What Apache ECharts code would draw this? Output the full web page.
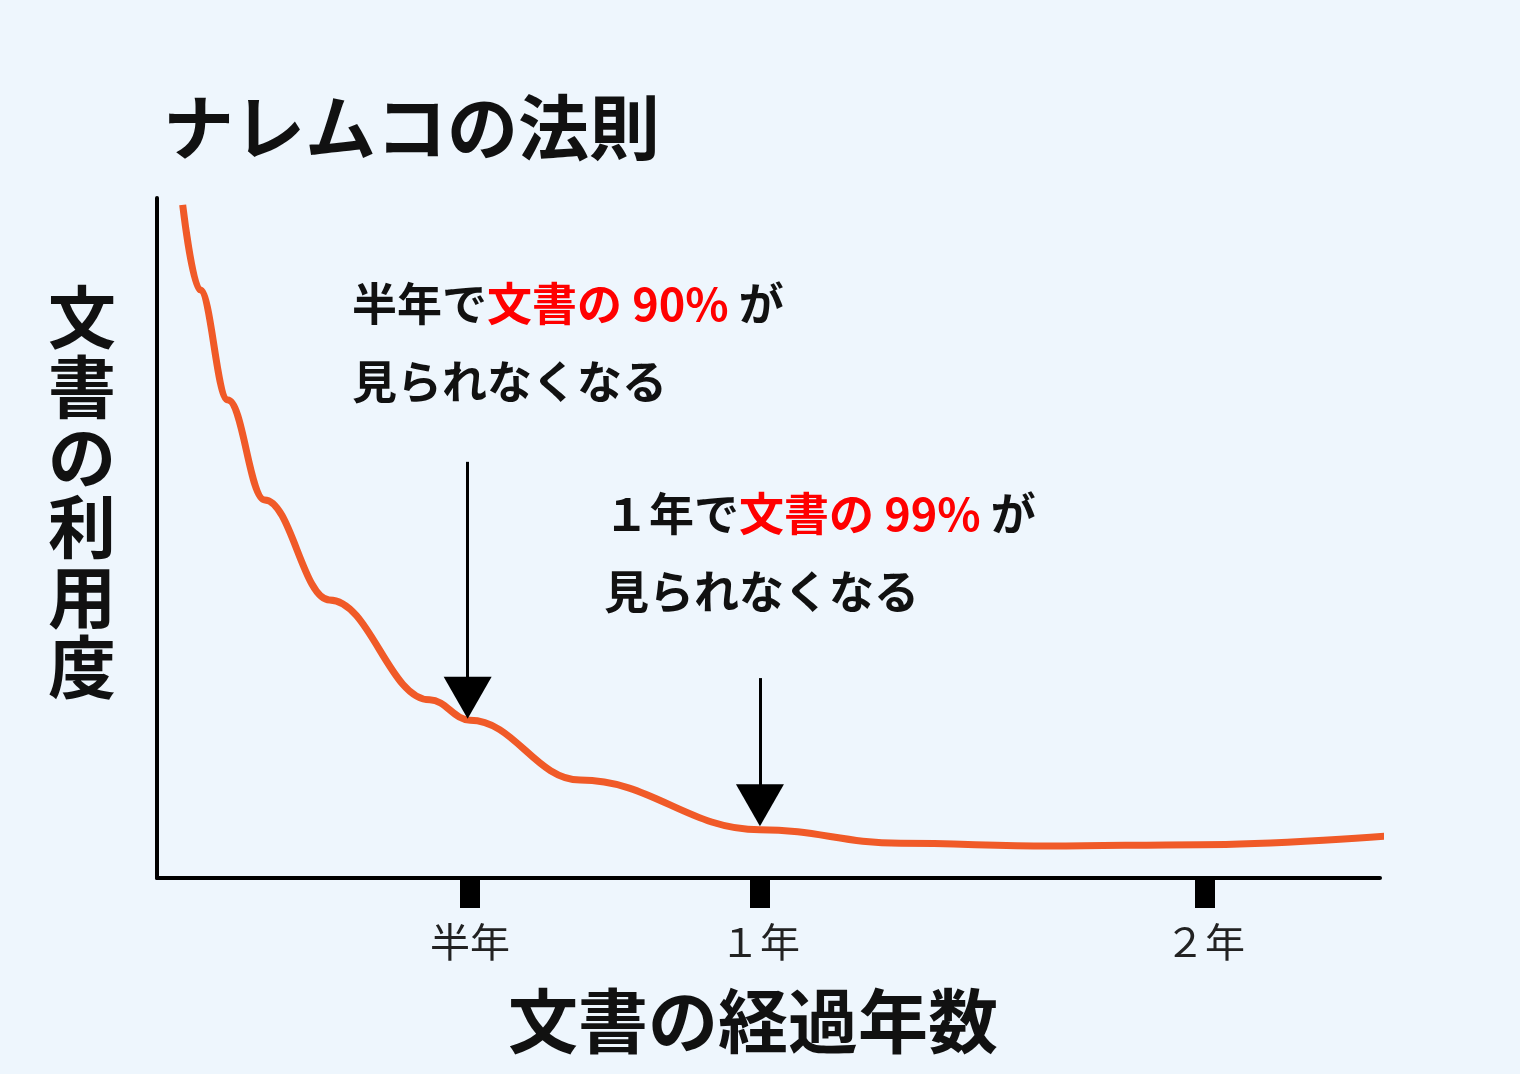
<!DOCTYPE html>
<html><head><meta charset="utf-8">
<script src="https://cdn.jsdelivr.net/npm/echarts@6/dist/echarts.min.js"></script>
<style>html,body{margin:0;padding:0;background:#EEF6FD}#c{width:1520px;height:1074px}</style>
</head><body><div id="c"></div>
<script>
const curveX = [2.1,3.5,5.8,8.8,14.1,22.3,25.6,34.6,49.3,60.8,73.0,85.3,100.8];
const curveY = [99,86.5,70.3,55.6,40.9,26.2,23.2,14.4,7.1,5.1,4.7,4.9,6.2];
const tickPos = [25.6,49.3,85.7];
const tickLabels = ['半年','１年','２年'];
const F = '"Noto Sans CJK JP","Noto Sans CJK SC",sans-serif';
const chart = echarts.init(document.getElementById('c'));
const rich = {b:{fontFamily:F,fontSize:45,fontWeight:'bold',fill:'#111',color:'#111',lineHeight:78},
              r:{fontFamily:F,fontSize:45,fontWeight:'bold',fill:'#F00',color:'#F00',lineHeight:78}};
chart.setOption({
  backgroundColor:'#EEF6FD',
  grid:{left:157,right:140,top:198,bottom:196},
  xAxis:{type:'value',min:0,max:100,
    axisLine:{lineStyle:{color:'#000',width:4}},
    splitLine:{show:false},
    axisTick:{show:true,customValues:tickPos,length:30,lineStyle:{color:'#000',width:20}},
    axisLabel:{customValues:tickPos,margin:44,fontFamily:F,fontSize:40,color:'#222',
      formatter:v=>tickLabels[tickPos.indexOf(v)]}},
  yAxis:{type:'value',min:0,max:100,
    axisLine:{show:true,lineStyle:{color:'#000',width:4}},
    axisTick:{show:false},axisLabel:{show:false},splitLine:{show:false}},
  graphic:[
    {type:'text',left:163,top:92,style:{text:'ナレムコの法則',fontFamily:F,fontSize:71,fontWeight:'bold',fill:'#111'}},
    {type:'text',left:48,top:282,style:{text:'文\n書\nの\n利\n用\n度',fontFamily:F,fontSize:68,fontWeight:'bold',fill:'#111',lineHeight:70}},
    {type:'text',left:508,top:986,style:{text:'文書の経過年数',fontFamily:F,fontSize:70,fontWeight:'bold',fill:'#111'}},
    {type:'text',left:352,top:281,style:{text:'{b|半年で}{r|文書の 90%}{b| が}\n{b|見られなくなる}',rich:rich}},
    {type:'text',left:604,top:491,style:{text:'{b|１年で}{r|文書の 99%}{b| が}\n{b|見られなくなる}',rich:rich}}
  ],
  series:[{type:'line',smooth:0.4,smoothMonotone:'x',symbol:'none',clip:false,
    data:curveX.map((x,i)=>[x,curveY[i]]),
    lineStyle:{color:'#F05A28',width:7},
    markLine:{silent:true,symbol:['none','triangle'],symbolSize:[48,42],label:{show:false},
      lineStyle:{color:'#000',width:3,type:'solid'},
      data:[[{coord:[25.4,61.2]},{coord:[25.4,26.5]}],[{coord:[49.3,29.4]},{coord:[49.3,10.7]}]]}
  }]
});
</script></body></html>
